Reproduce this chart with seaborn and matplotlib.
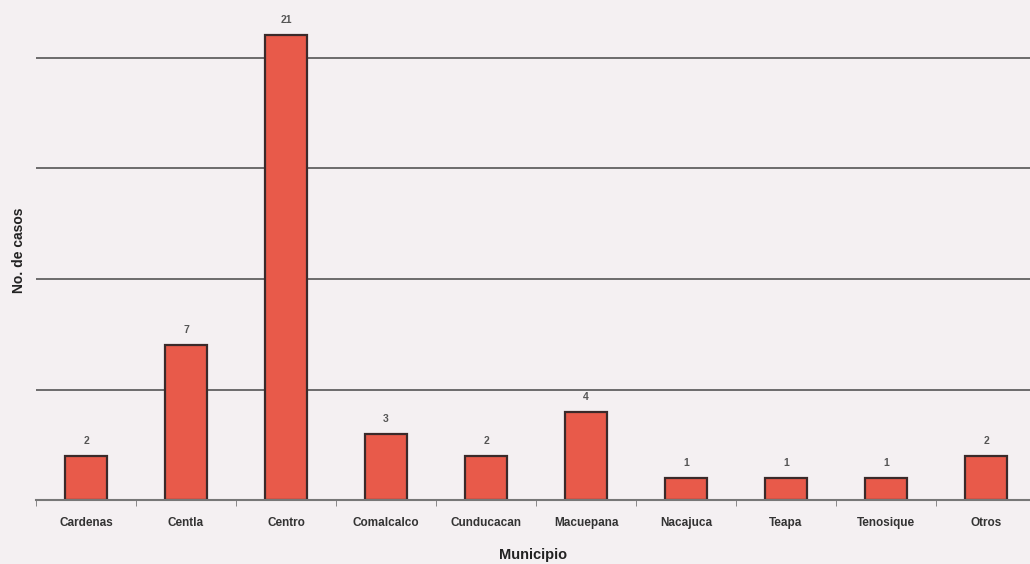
import matplotlib.pyplot as plt
import seaborn as sns
import pandas as pd
from matplotlib.ticker import FixedLocator

# datos
municipios = ['Cardenas', 'Centla', 'Centro', 'Comalcalco', 'Cunducacan',
              'Macuepana', 'Nacajuca', 'Teapa', 'Tenosique', 'Otros']
casos = [2, 7, 21, 3, 2, 4, 1, 1, 1, 2]

df = pd.DataFrame({'Municipio': municipios, 'casos': casos})

sns.set_style('white')
plt.rcParams['font.family'] = ['Liberation Sans', 'DejaVu Sans']

fig = plt.figure(figsize=(10.3, 5.64), dpi=100)
fig.patch.set_facecolor('#f4f0f2')
ax = fig.add_axes([0.035, 0.113, 0.965, 0.887])
ax.set_facecolor('#f4f0f2')

sns.barplot(x='Municipio', y='casos', data=df, color='#e85a4a',
            width=0.42, edgecolor='#3a2a2a', linewidth=1.6, saturation=1, ax=ax)

# etiquetas de valor
for i, v in enumerate(casos):
    ax.text(i, v + 0.45, str(v), ha='center', va='bottom', fontsize=7.5,
            fontweight='bold', color='#555555')

ax.set_xlim(-0.5, 9.44)
ax.set_ylim(0, 22.6)
ax.set_yticks([0, 5, 10, 15, 20])
ax.set_yticklabels([])
ax.tick_params(axis='y', length=0)
ax.yaxis.grid(True, color='#555555', linewidth=1.2)
ax.set_axisbelow(True)

ax.xaxis.set_minor_locator(FixedLocator([i + 0.5 for i in range(-1, 10)]))
ax.tick_params(axis='x', which='major', length=0, pad=12, labelsize=8.5,
               labelcolor='#333333')
ax.tick_params(axis='x', which='minor', length=4, color='#777777', direction='out',
               bottom=True)
for lbl in ax.get_xticklabels():
    lbl.set_fontweight('bold')

for s in ['top', 'right', 'left']:
    ax.spines[s].set_visible(False)
ax.spines['bottom'].set_color('#777777')
ax.spines['bottom'].set_linewidth(1.5)

ax.set_xlabel('Municipio', fontsize=10.5, fontweight='bold', color='#222222', labelpad=14)
ax.set_ylabel('No. de casos', fontsize=10, fontweight='bold', color='#222222', labelpad=4)

plt.savefig('out.png', dpi=100, facecolor=fig.get_facecolor())
